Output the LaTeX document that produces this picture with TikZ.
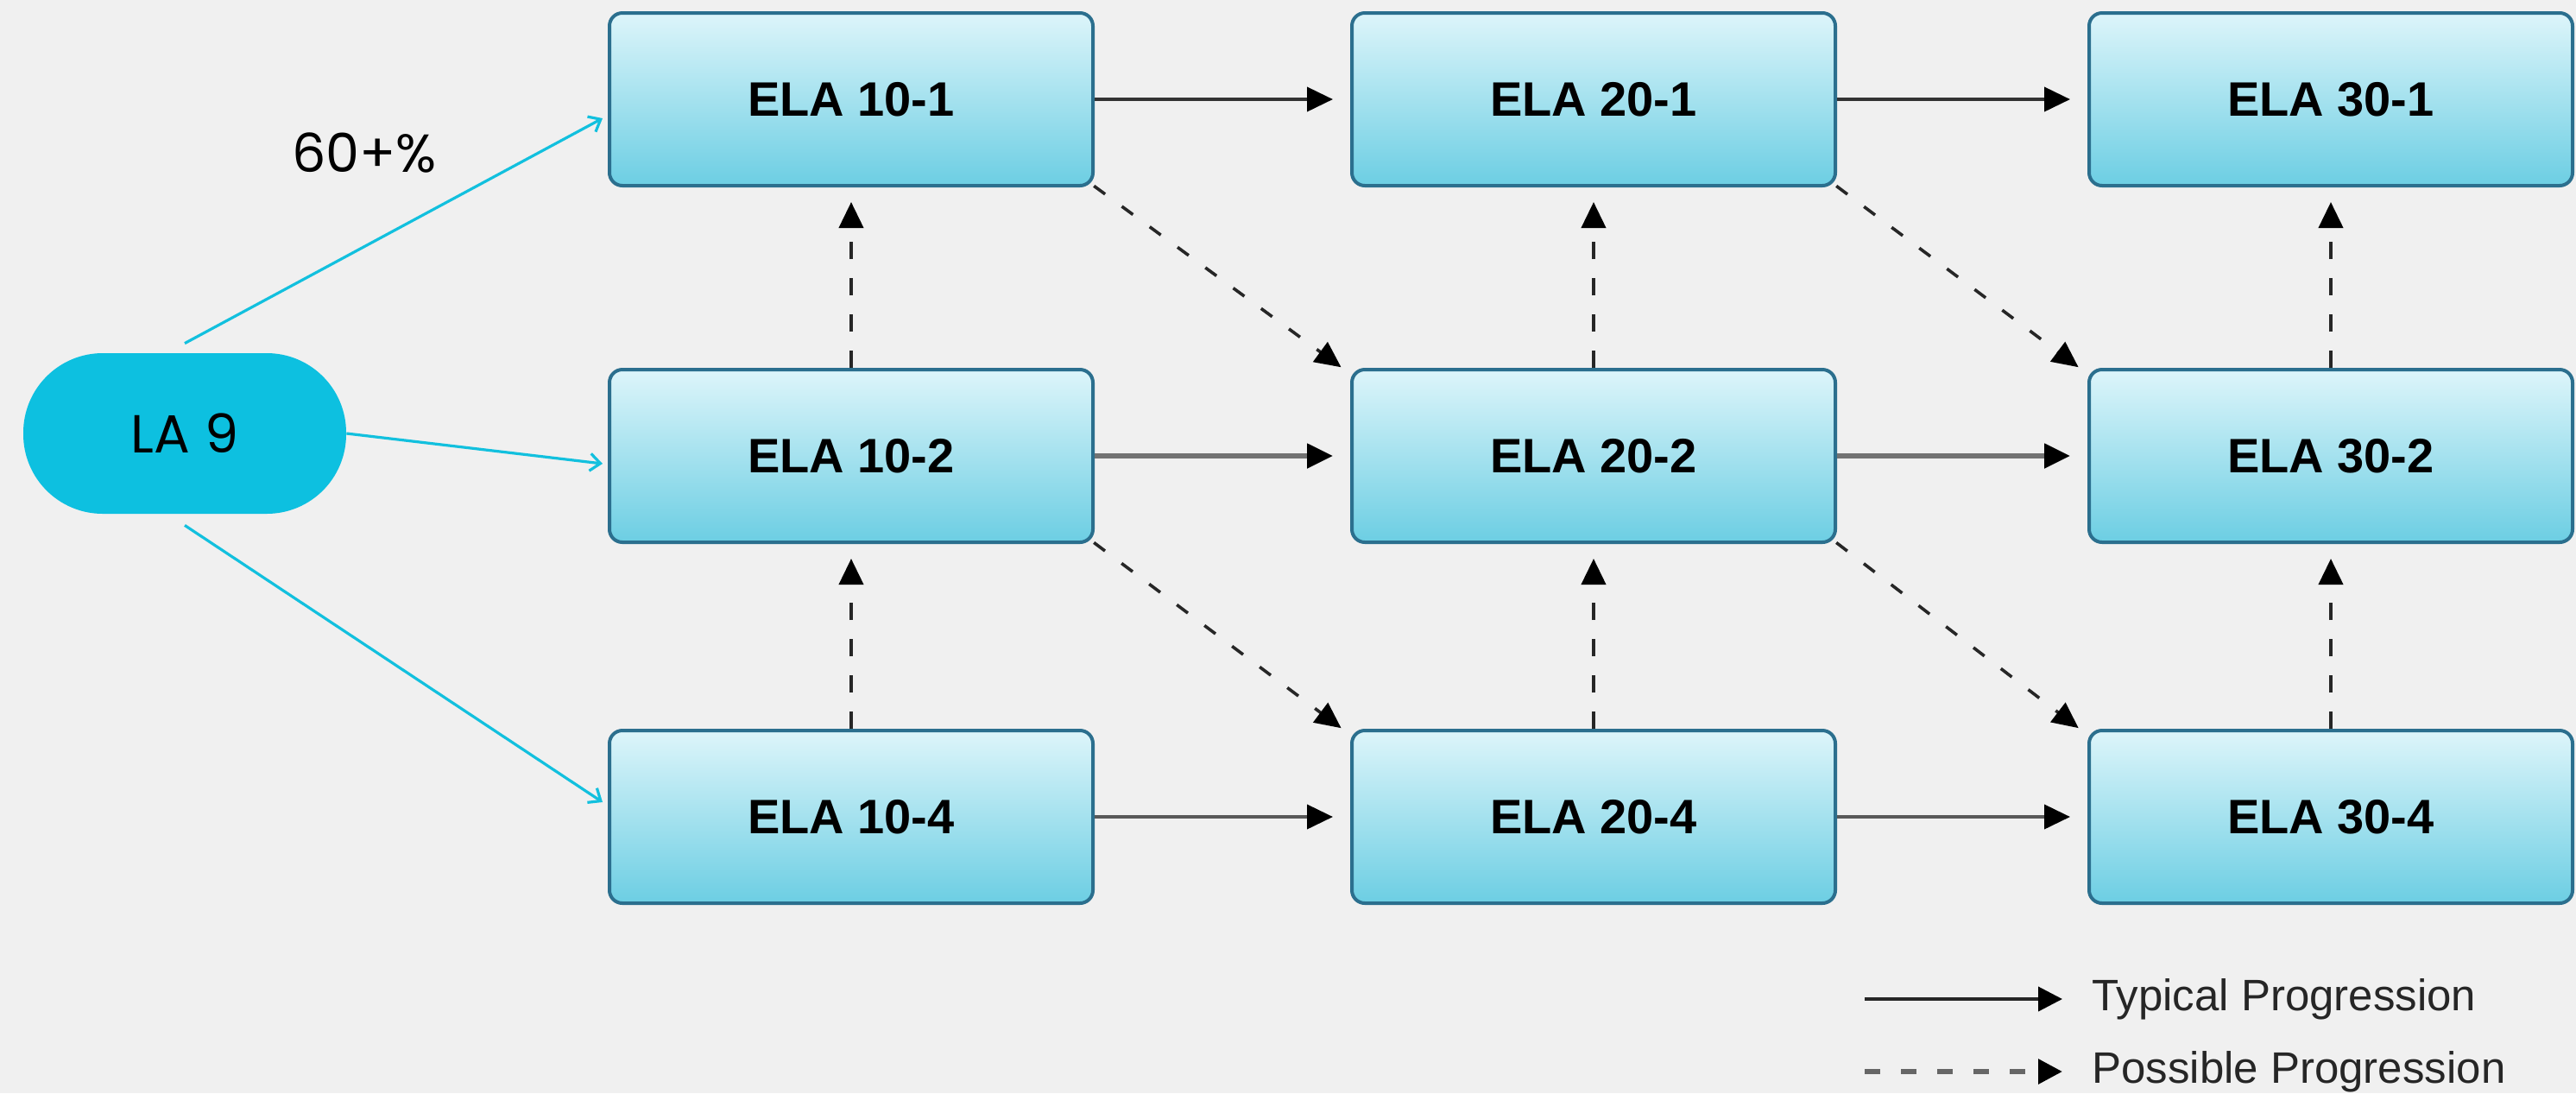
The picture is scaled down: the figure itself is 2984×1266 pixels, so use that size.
\documentclass[tikz,border=0pt]{standalone}
\usepackage{fontspec}
\setmainfont{Liberation Sans}
\newfontfamily\popfont{Poppins}
\usetikzlibrary{arrows.meta,positioning,calc}
\definecolor{bgc}{HTML}{F0F0F0}
\definecolor{pillc}{HTML}{0DC0E0}
\definecolor{boxtop}{HTML}{DDF5FA}
\definecolor{boxbot}{HTML}{6CCEE3}
\definecolor{boxedge}{HTML}{2B6F8E}
\definecolor{linec}{HTML}{12C0DE}
\tikzset{
  elabox/.style={draw=boxedge, line width=2pt, rounded corners=7.5pt,
    top color=boxtop, bottom color=boxbot, minimum width=280pt, minimum height=100pt,
    font=\fontsize{28}{32}\selectfont\bfseries, text=black},
  pill/.style={fill=pillc, rounded corners=46pt, minimum width=187pt, minimum height=93pt,
    font=\popfont\fontsize{31}{35}\selectfont, text=black},
  bltip/.style={-{Triangle[length=15pt,width=14pt,color=black]}},
  typarrow/.style={draw=black!80, line width=2pt, bltip, shorten >=10pt},
  posarrow/.style={draw=black!85, line width=2pt, dash pattern=on 10pt off 11pt, bltip},
  cyanarrow/.style={draw=linec, line width=1.6pt, -{Straight Barb[length=6pt,width=10pt]}},
  legtext/.style={anchor=west, font=\fontsize{25.5}{29}\selectfont, text=black!85, inner sep=0pt}
}
\begin{document}
\begin{tikzpicture}[x=0.5pt,y=-0.5pt]
\fill[bgc] (0,0) rectangle (2984,1266);
\useasboundingbox (0,0) rectangle (2984,1266);

% nodes
\node[pill] (la) at (214,502) {LA 9};
\node[elabox] (a1) at (986,115) {ELA 10-1};
\node[elabox] (a2) at (986,528) {ELA 10-2};
\node[elabox] (a4) at (986,946) {ELA 10-4};
\node[elabox] (b1) at (1846,115) {ELA 20-1};
\node[elabox] (b2) at (1846,528) {ELA 20-2};
\node[elabox] (b4) at (1846,946) {ELA 20-4};
\node[elabox] (c1) at (2700,115) {ELA 30-1};
\node[elabox] (c2) at (2700,528) {ELA 30-2};
\node[elabox] (c4) at (2700,946) {ELA 30-4};
\node[font=\popfont\fontsize{31}{35}\selectfont, text=black] (pct) at (422,177) {60+\%};

% LA 9 connectors
\coordinate (latop) at ([yshift=5.5pt]la.north);
\coordinate (labot) at ([yshift=-6.5pt]la.south);
\draw[cyanarrow] (latop) -- ([yshift=-11pt,xshift=-3pt]a1.west);
\draw[cyanarrow] (la.east) -- ([yshift=-4.5pt,xshift=-3pt]a2.west);
\draw[cyanarrow] (labot) -- ([yshift=8.5pt,xshift=-3pt]a4.west);

% typical progression
\draw[typarrow] (a1) -- (b1);
\draw[typarrow] (b1) -- (c1);
\draw[typarrow, draw=black!55, line width=2.6pt] (a2) -- (b2);
\draw[typarrow, draw=black!55, line width=2.6pt] (b2) -- (c2);
\draw[typarrow, draw=black!65] (a4) -- (b4);
\draw[typarrow, draw=black!65] (b4) -- (c4);

% possible progression: vertical
\foreach \lo/\hi in {a2/a1,a4/a2,b2/b1,b4/b2,c2/c1,c4/c2}{
  \draw[posarrow, shorten >=8.5pt] (\lo.north) -- (\hi.south);
}
% possible progression: diagonal
\foreach \s/\t in {a1/b2,a2/b4,b1/c2,b2/c4}{
  \draw[posarrow, dash pattern=on 8pt off 12pt, line width=1.8pt, shorten <=2pt, shorten >=4pt]
    ([xshift=-2pt,yshift=2pt]\s.south east) -- ([xshift=-2pt,yshift=-2pt]\t.north west);
}

% legend
\node[legtext] (lt1) at (2423,1157) {Typical Progression};
\node[legtext] (lt2) at (2423,1241) {Possible Progression};
\coordinate (ls1) at (2160,1157);
\coordinate (ls2) at (2160,1241);
\draw[draw=black!85, line width=2pt, -{Triangle[length=14pt,width=14pt,color=black]}, shorten >=17pt] (ls1) -- (lt1.west);
\draw[draw=black!60, line width=3pt, dash pattern=on 9pt off 12pt, -{Triangle[length=14pt,width=14pt,color=black]}, shorten >=17pt] (ls2) -- (lt2.west);
\end{tikzpicture}
\end{document}
